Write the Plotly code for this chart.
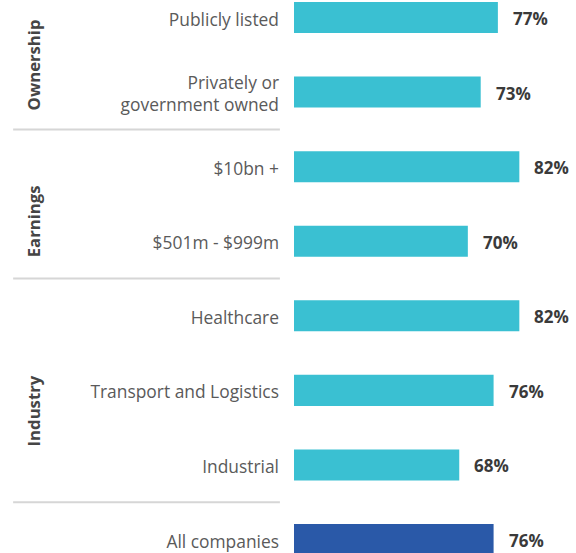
import plotly.graph_objs as go

# Data
categories = [
    "Publicly listed",
    "Privately or<br>government owned",
    "$10bn +",
    "$501m - $999m",
    "Healthcare",
    "Transport and Logistics",
    "Industrial",
    "All companies",
]
values = [77, 73, 82, 70, 82, 76, 68, 76]
groups = ["Ownership", "Earnings", "Industry"]
group_centers = [0.64, 2.73, 5.28]
separators = [1.5, 3.5, 6.5]

CYAN = "#3AC0D2"
NAVY = "#2A59A8"
FONT = "Open Sans"
positions = list(range(len(categories)))
colors = [NAVY if c == "All companies" else CYAN for c in categories]

fig = go.Figure()

fig.add_trace(go.Bar(
    x=values,
    y=positions,
    orientation="h",
    base=0,
    width=0.416,
    marker=dict(color=colors, line=dict(width=0)),
    hoverinfo="skip",
))

# Value labels to the right of each bar
for pos, val in zip(positions, values):
    fig.add_annotation(
        x=val, y=pos, text=f"<b>{val}%</b>",
        showarrow=False, xanchor="left", yanchor="middle", xshift=13, yshift=-1,
        font=dict(family=FONT, size=17, color="#3a3a3a"),
    )

# Group labels on the far left
for name, yc in zip(groups, group_centers):
    fig.add_annotation(
        x=-0.925, xref="paper", y=yc, text=f"<b>{name}</b>",
        showarrow=False, textangle=-90, xanchor="center", yanchor="middle",
        font=dict(family=FONT, size=16.7, color="#454545"),
    )

# Separator lines between groups
for s in separators:
    fig.add_shape(
        type="line", xref="paper", x0=-0.996, x1=-0.05, y0=s, y1=s,
        line=dict(color="#d6d6d6", width=2),
    )

fig.update_layout(
    width=576,
    height=553,
    margin=dict(l=294, r=0, t=0, b=0),
    plot_bgcolor="white",
    paper_bgcolor="white",
    showlegend=False,
    font=dict(family=FONT, size=17, color="#5a5a5a"),
    xaxis=dict(range=[29.5, 95.2], visible=False, fixedrange=True),
    yaxis=dict(
        range=[7.181, -0.235],
        tickvals=positions,
        ticktext=categories,
        showgrid=False,
        zeroline=False,
        showline=False,
        ticks="",
        ticklabelstandoff=14,
        ticklabelshift=-2,
        fixedrange=True,
        tickfont=dict(family=FONT, size=17.4, color="#5a5a5a"),
    ),
)

fig.write_html(
    "out.html",
    config={"displayModeBar": False},
    post_script="document.body.style.margin='0';",
)
